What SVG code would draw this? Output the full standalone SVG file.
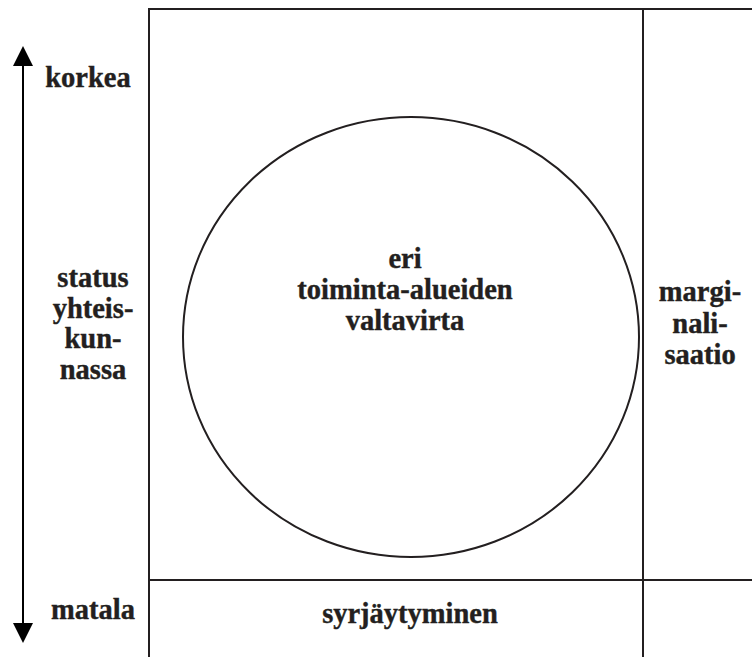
<svg xmlns="http://www.w3.org/2000/svg" width="752" height="657" viewBox="0 0 752 657">
<style>
.ln{stroke:#231f20;stroke-width:2;fill:none}
text{font-family:"Liberation Serif","Times New Roman",serif;font-weight:bold;font-size:28.5px;fill:#231f20;stroke:#231f20;stroke-width:0.4;text-anchor:middle}
</style>
<g id="connectors">
<path d="M23,46 L13,66 L33,66 Z" fill="#000"/>
<line x1="23" y1="60" x2="23" y2="630" stroke="#000" stroke-width="2"/>
<path d="M23,643 L13,623 L33,623 Z" fill="#000"/>
</g>
<g id="grid">
<line class="ln" x1="148" y1="9" x2="752" y2="9"/>
<line class="ln" x1="149" y1="8" x2="149" y2="657"/>
<line class="ln" x1="643" y1="8" x2="643" y2="657"/>
<line class="ln" x1="149" y1="580" x2="752" y2="580"/>
</g>
<g id="mainstream">
<ellipse class="ln" cx="411" cy="337" rx="228" ry="220"/>
<text x="405" y="268">eri</text>
<text x="405" y="299">toiminta-alueiden</text>
<text x="405" y="330">valtavirta</text>
</g>
<g id="labels">
<text x="88" y="87">korkea</text>
<text x="93" y="287">status</text>
<text x="93" y="318">yhteis-</text>
<text x="93" y="348">kun-</text>
<text x="93" y="379">nassa</text>
<text x="93" y="619">matala</text>
</g>
<g id="marginal">
<text x="700" y="301">margi-</text>
<text x="700" y="333">nali-</text>
<text x="700" y="364">saatio</text>
</g>
<g id="exclusion">
<text x="410" y="623">syrjäytyminen</text>
</g>
</svg>
